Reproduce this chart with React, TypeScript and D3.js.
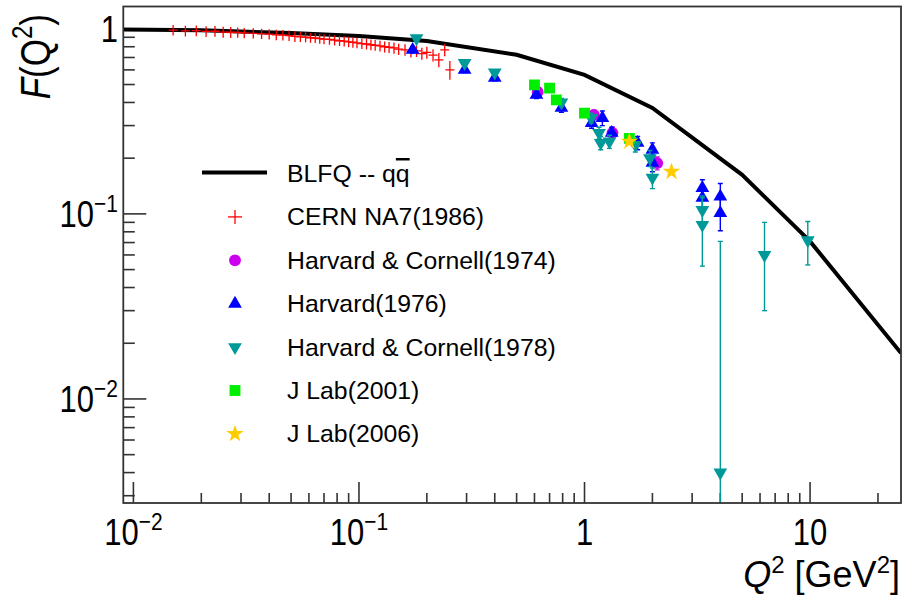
import React from "react";
import * as d3 from "d3";

// ---------------- data ----------------
const blfqQ2 = [0.009, 0.02, 0.05, 0.1, 0.2, 0.5, 1, 2, 5, 10, 25.3];
const blfqF = [0.99, 0.981, 0.948, 0.915, 0.86, 0.724, 0.564, 0.374, 0.1625, 0.071, 0.0177];

const na7Q2 = [0.015, 0.017, 0.019, 0.021, 0.023, 0.025, 0.027, 0.029, 0.031, 0.034, 0.037, 0.040, 0.043, 0.046, 0.049, 0.052, 0.055, 0.058, 0.061, 0.064, 0.067, 0.070, 0.074, 0.078, 0.082, 0.086, 0.090, 0.094, 0.098, 0.103, 0.108, 0.113, 0.118, 0.124, 0.130, 0.136, 0.143, 0.150, 0.160, 0.170, 0.180, 0.190, 0.200, 0.213, 0.226, 0.240, 0.253];
const na7F = [0.985, 0.975, 0.978, 0.968, 0.970, 0.960, 0.958, 0.955, 0.950, 0.946, 0.940, 0.935, 0.928, 0.925, 0.918, 0.910, 0.905, 0.902, 0.895, 0.892, 0.885, 0.880, 0.876, 0.868, 0.862, 0.858, 0.850, 0.846, 0.840, 0.832, 0.828, 0.820, 0.815, 0.808, 0.800, 0.795, 0.788, 0.776, 0.770, 0.755, 0.760, 0.735, 0.745, 0.720, 0.680, 0.770, 0.600];
const na7Err = [0.065, 0.065, 0.065, 0.065, 0.065, 0.065, 0.065, 0.06, 0.06, 0.06, 0.06, 0.06, 0.06, 0.06, 0.06, 0.06, 0.055, 0.055, 0.055, 0.055, 0.055, 0.055, 0.055, 0.055, 0.055, 0.055, 0.055, 0.055, 0.055, 0.055, 0.055, 0.055, 0.055, 0.055, 0.055, 0.055, 0.055, 0.055, 0.055, 0.055, 0.055, 0.055, 0.055, 0.055, 0.06, 0.06, 0.07];
const na7XErr = [0, 0, 0, 0, 0, 0, 0, 0, 0, 0, 0, 0, 0, 0, 0, 0, 0, 0, 0, 0, 0, 0, 0, 0, 0, 0, 0, 0, 0, 0, 0, 0, 0, 0, 0, 0, 0, 0, 0, 0, 0, 0, 0, 0.006, 0.006, 0.01, 0.006];

const hc74Q2 = [0.62, 1.10, 1.33, 2.1];
const hc74F = [0.456, 0.343, 0.274, 0.188];
const hc74Err = [0.02, 0.02, 0.02, 0.015];

const h76Q2 = [0.173, 0.294, 0.40, 0.612, 0.79, 1.075, 1.2, 1.32, 1.72, 2.0, 2.0, 3.33, 3.33, 4.0, 4.0];
const h76F = [0.77, 0.60, 0.543, 0.44, 0.374, 0.31, 0.33, 0.274, 0.242, 0.222, 0.189, 0.138, 0.122, 0.124, 0.101];
const h76Err = [0.03, 0.02, 0.02, 0.02, 0.02, 0.02, 0.03, 0.02, 0.02, 0.02, 0.02, 0.015, 0.015, 0.022, 0.02];

const hc78Q2 = [0.18, 0.294, 0.40, 0.79, 1.07, 1.16, 1.18, 1.29, 1.68, 1.95, 2.0, 3.33, 3.33, 4.0, 6.28, 9.77];
const hc78F = [0.89, 0.653, 0.58, 0.40, 0.33, 0.274, 0.242, 0.246, 0.236, 0.20, 0.157, 0.105, 0.0872, 0.004, 0.06, 0.072];
const hc78Err = [0.02, 0.02, 0.02, 0.02, 0.02, 0.02, 0.02, 0.02, 0.02, 0.02, 0.02, 0.02, 0.035, 0.067, 0.03, 0.019];

const jlab01Q2 = [0.60, 0.70, 0.75, 1.0, 1.58];
const jlab01F = [0.498, 0.478, 0.413, 0.35, 0.256];

const jlab06Q2 = [1.58, 2.43];
const jlab06F = [0.246, 0.169];

const legendLabels = ["BLFQ -- q", "CERN NA7(1986)", "Harvard & Cornell(1974)", "Harvard(1976)", "Harvard & Cornell(1978)", "J Lab(2001)", "J Lab(2006)"];

const xTicksMajor = [0.01, 0.1, 1, 10];
const xTickText = [["10", "\u22122"], ["10", "\u22121"], ["1", ""], ["10", ""]];
const yTicksMajor = [1, 0.1, 0.01];
const yTickText = [["1", ""], ["10", "\u22121"], ["10", "\u22122"]];

// ---------------- layout ----------------
const W = 904, H = 595;
const PL = 123.3, PR = 901, PT = 6.5, PB = 503;
const FONT = "'Liberation Sans', Arial, Helvetica, sans-serif";

const x = d3.scaleLog().domain([0.00902, 25.3]).range([PL, PR]);
const y = d3.scaleLog().domain([0.00274, 1.32]).range([PB, PT]);
const yc = (v: number) => Math.min(PB, Math.max(PT, v > 0 ? y(v) : PB));

const RED = "#ff0000", MAG = "#cc00ee", BLUE = "#0000ff", TEAL = "#009999", GREEN = "#00ee00", GOLD = "#ffcc00";

const triUp = d3.symbol().type(d3.symbolTriangle).size(82)()!;
const circ = d3.symbol().type(d3.symbolCircle).size(110)()!;
const sq = d3.symbol().type(d3.symbolSquare).size(118)()!;
const star = d3.symbol().type(d3.symbolStar).size(95)()!;

function minorTicks(lo: number, hi: number) {
  const out: number[] = [];
  for (let e = -3; e <= 2; e++) {
    for (let m = 2; m <= 9; m++) {
      const v = m * Math.pow(10, e);
      if (v > lo && v < hi) out.push(v);
    }
  }
  return out;
}

function ErrBars({ q, f, err, color, cap }: { q: number[]; f: number[]; err: number[]; color: string; cap: boolean }) {
  return (
    <g stroke={color} strokeWidth={1.4}>
      {q.map((qq, i) => {
        const cx = x(qq);
        const y1 = yc(f[i] + err[i]);
        const y2 = yc(f[i] - err[i]);
        return (
          <g key={i}>
            <line x1={cx} x2={cx} y1={y1} y2={y2} />
            {cap && <line x1={cx - 2.5} x2={cx + 2.5} y1={y1} y2={y1} />}
            {cap && f[i] - err[i] > 0.00274 && <line x1={cx - 2.5} x2={cx + 2.5} y1={y2} y2={y2} />}
          </g>
        );
      })}
    </g>
  );
}

function Markers({ q, f, path, color, rot }: { q: number[]; f: number[]; path: string; color: string; rot?: number }) {
  return (
    <g fill={color}>
      {q.map((qq, i) => (
        <path key={i} d={path} transform={`translate(${x(qq)},${y(f[i])}) rotate(${rot || 0})`} />
      ))}
    </g>
  );
}

function TickLabel({ tx, ty, anchor, main, sup }: { tx: number; ty: number; anchor: string; main: string; sup: string }) {
  return (
    <text transform={`translate(${tx},${ty}) scale(1,1.18)`} textAnchor={anchor} fontSize={31} fill="#000">
      {main}
      {sup && (
        <tspan fontSize={21} dy={-13}>
          {sup}
        </tspan>
      )}
    </text>
  );
}

export default function App() {
  const line = d3
    .line<number>()
    .x((_, i) => x(blfqQ2[i]))
    .y((d) => y(d));

  const xMinor = minorTicks(0.00902, 25.3);
  const yMinor = minorTicks(0.00274, 1.32);
  const legY = (i: number) => 173.5 + i * 43.4;
  const legMX = 235;

  return (
    <svg width={W} height={H} style={{ position: "absolute", left: 0, top: 0, background: "#fff" }} fontFamily={FONT}>
      <rect x={0} y={0} width={W} height={H} fill="#fff" />
      <defs>
        <clipPath id="frame">
          <rect x={PL} y={PT} width={PR - PL} height={PB - PT} />
        </clipPath>
      </defs>

      {/* ticks */}
      <g stroke="#333" strokeWidth={1.6}>
        {xTicksMajor.map((t) => (
          <line key={"xM" + t} x1={x(t)} x2={x(t)} y1={PB} y2={PB - 21} />
        ))}
        {xMinor.map((t) => (
          <line key={"xm" + t} x1={x(t)} x2={x(t)} y1={PB} y2={PB - 10} />
        ))}
        {yTicksMajor.map((t) => (
          <line key={"yM" + t} x1={PL} x2={PL + 23} y1={y(t)} y2={y(t)} />
        ))}
        {yMinor.map((t) => (
          <line key={"ym" + t} x1={PL} x2={PL + 11.5} y1={y(t)} y2={y(t)} />
        ))}
      </g>

      {/* tick labels */}
      {xTicksMajor.map((t, i) => (
        <TickLabel key={"xl" + t} tx={x(t)} ty={545} anchor="middle" main={xTickText[i][0]} sup={xTickText[i][1]} />
      ))}
      {yTicksMajor.map((t, i) => (
        <TickLabel key={"yl" + t} tx={118} ty={y(t) + 13} anchor="end" main={yTickText[i][0]} sup={yTickText[i][1]} />
      ))}

      {/* axis titles */}
      <text transform="translate(900,587)" textAnchor="end" fontSize={36} fill="#000">
        <tspan fontStyle="italic">Q</tspan>
        <tspan fontSize={24} dy={-14}>2</tspan>
        <tspan dy={14}> [GeV</tspan>
        <tspan fontSize={24} dy={-14}>2</tspan>
        <tspan dy={14}>]</tspan>
      </text>
      <text transform="translate(50,14) rotate(-90) scale(1,1.2)" textAnchor="end" fontSize={35} fill="#000">
        <tspan fontStyle="italic">F</tspan>
        <tspan>(Q</tspan>
        <tspan fontSize={24} dy={-15}>2</tspan>
        <tspan dy={15}>)</tspan>
      </text>

      {/* data */}
      <g clipPath="url(#frame)">
        <path d={line(blfqF) || ""} fill="none" stroke="#000" strokeWidth={4} />

        {/* CERN NA7 */}
        <g stroke={RED} strokeWidth={1.3}>
          {na7Q2.map((q, i) => {
            const cx = x(q), cy = y(na7F[i]);
            const xl = na7XErr[i] > 0 ? x(q - na7XErr[i]) : cx - 4.5;
            const xr = na7XErr[i] > 0 ? x(q + na7XErr[i]) : cx + 4.5;
            return (
              <g key={i}>
                <line x1={cx} x2={cx} y1={y(na7F[i] + na7Err[i])} y2={y(na7F[i] - na7Err[i])} />
                <line x1={Math.min(xl, cx - 4.5)} x2={Math.max(xr, cx + 4.5)} y1={cy} y2={cy} />
              </g>
            );
          })}
        </g>

        <ErrBars q={hc74Q2} f={hc74F} err={hc74Err} color={MAG} cap={true} />
        <Markers q={hc74Q2} f={hc74F} path={circ} color={MAG} />

        <ErrBars q={h76Q2} f={h76F} err={h76Err} color={BLUE} cap={true} />
        <Markers q={h76Q2} f={h76F} path={triUp} color={BLUE} />

        <ErrBars q={hc78Q2} f={hc78F} err={hc78Err} color={TEAL} cap={true} />
        <Markers q={hc78Q2} f={hc78F} path={triUp} color={TEAL} rot={180} />

        <Markers q={jlab01Q2} f={jlab01F} path={sq} color={GREEN} />
        <Markers q={jlab06Q2} f={jlab06F} path={star} color={GOLD} />
      </g>

      {/* frame */}
      <rect x={PL} y={PT} width={PR - PL} height={PB - PT} fill="none" stroke="#333" strokeWidth={1.8} />

      {/* legend */}
      <g>
        <line x1={202} x2={267} y1={legY(0) - 1} y2={legY(0) - 1} stroke="#000" strokeWidth={4} />
        <g stroke={RED} strokeWidth={1.3}>
          <line x1={legMX - 7} x2={legMX + 7} y1={legY(1)} y2={legY(1)} />
          <line x1={legMX} x2={legMX} y1={legY(1) - 7} y2={legY(1) + 7} />
        </g>
        <path d={circ} fill={MAG} transform={`translate(${legMX},${legY(2)})`} />
        <path d={triUp} fill={BLUE} transform={`translate(${legMX},${legY(3)})`} />
        <path d={triUp} fill={TEAL} transform={`translate(${legMX},${legY(4)}) rotate(180)`} />
        <path d={sq} fill={GREEN} transform={`translate(${legMX},${legY(5)})`} />
        <path d={star} fill={GOLD} transform={`translate(${legMX},${legY(6)})`} />
        <g fontSize={24.8} fill="#000">
          {legendLabels.map((l, i) => (
            <text key={i} x={287} y={legY(i) + 8.5}>
              {l}
              {i === 0 && <tspan textDecoration="overline">q</tspan>}
            </text>
          ))}
        </g>
      </g>
    </svg>
  );
}
